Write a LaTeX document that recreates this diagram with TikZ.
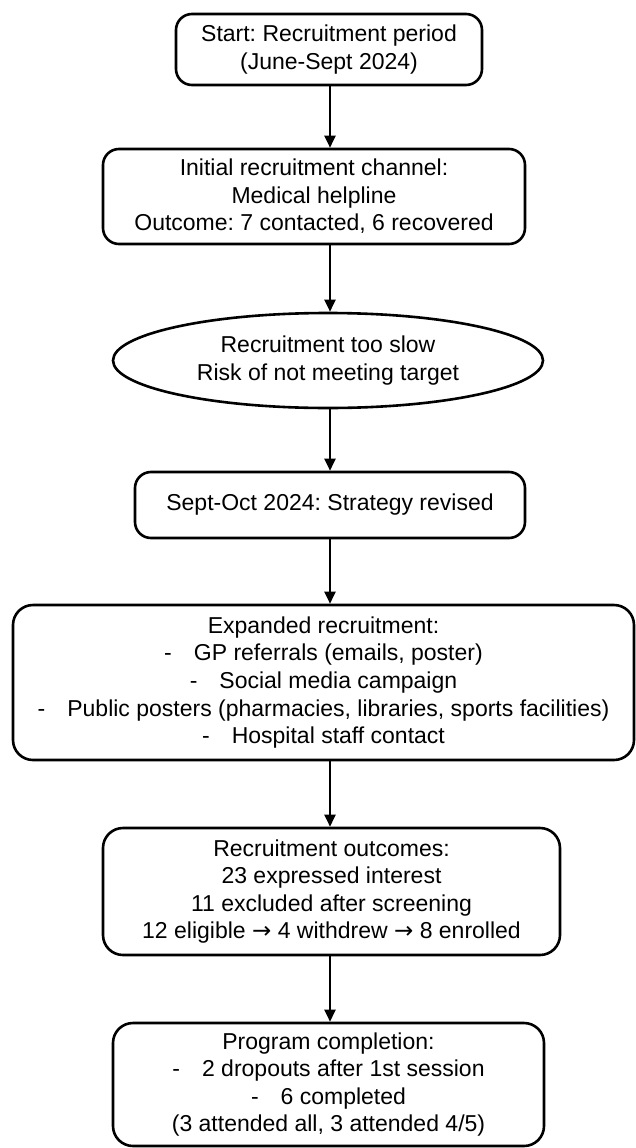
\documentclass[tikz,border=0pt]{standalone}
\usepackage{fontspec}
\setmainfont{Liberation Sans}
\newfontfamily\arrowfont{DejaVu Sans}
\newcommand{\rarr}{{\arrowfont →}}
\frenchspacing
\usetikzlibrary{shapes.geometric,arrows.meta}
\begin{document}
\begin{tikzpicture}[x=1pt,y=-1pt,
  every node/.style={font=\fontsize{23}{27.6}\selectfont, align=center, inner sep=0pt},
  flowbox/.style={draw, line width=2.6pt, rounded corners=16pt},
  bigbox/.style={draw, line width=2.6pt, rounded corners=20pt},
  oval/.style={draw, ellipse, line width=2.6pt},
  arr/.style={line width=2.4pt, -{Triangle[length=12pt,width=11pt]}}]
\useasboundingbox[fill=white] (0,0) rectangle (636,1148);
\coordinate (ax) at (330,0);
\node[flowbox, minimum width=306pt, minimum height=71pt] (start) at (329,49.5)
  {Start: Recruitment period\\(June-Sept 2024)};
\node[flowbox, minimum width=422pt, minimum height=95pt] (init) at (314,196.5)
  {Initial recruitment channel:\\Medical helpline\\Outcome: 7 contacted, 6 recovered};
\node[oval, minimum width=430pt, minimum height=95pt] (slow) at (328,360.5)
  {Recruitment too slow\\Risk of not meeting target};
\node[flowbox, minimum width=390pt, minimum height=66pt] (revise) at (330,505)
  {Sept-Oct 2024: Strategy revised};
\node[bigbox, minimum width=621pt, minimum height=155pt] (expand) at (323.5,682.5)
  {Expanded recruitment:\\
   -\hspace{22pt}GP referrals (emails, poster)\\
   -\hspace{22pt}Social media campaign\\
   -\hspace{22pt}Public posters (pharmacies, libraries, sports facilities)\\
   -\hspace{22pt}Hospital staff contact};
\node[bigbox, minimum width=457pt, minimum height=127pt] (outc) at (331.5,891.5)
  {Recruitment outcomes:\\23 expressed interest\\11 excluded after screening\\
   12 eligible \rarr{} 4 withdrew \rarr{} 8 enrolled};
\node[bigbox, minimum width=431pt, minimum height=123pt] (compl) at (328.5,1084.5)
  {Program completion:\\
   -\hspace{22pt}2 dropouts after 1st session\\
   -\hspace{22pt}6 completed\\
   (3 attended all, 3 attended 4/5)};
\draw[arr] (start.south -| ax) -- (init.north -| ax);
\draw[arr] (init.south -| ax) -- (slow.north -| ax);
\draw[arr] (slow.south -| ax) -- (revise.north -| ax);
\draw[arr] (revise.south -| ax) -- (expand.north -| ax);
\draw[arr] (expand.south -| ax) -- (outc.north -| ax);
\draw[arr] (outc.south -| ax) -- (compl.north -| ax);
\end{tikzpicture}
\end{document}
